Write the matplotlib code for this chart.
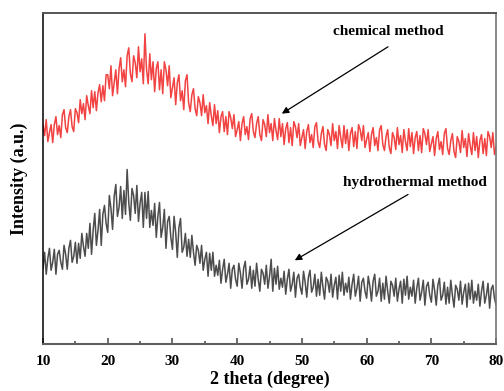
import matplotlib
matplotlib.use("Agg")
import matplotlib.pyplot as plt
import numpy as np
from matplotlib.ticker import MultipleLocator

plt.rcParams['font.family'] = ['Liberation Serif', 'DejaVu Serif']
plt.rcParams['font.weight'] = 'bold'

# intensity, 2theta = 10..80 in 0.25 degree steps
chemical = [220, 209, 225, 203, 212, 220, 202, 220, 228, 210, 219, 207,
            230, 235, 217, 212, 228, 235, 218, 213, 236, 232, 222, 245,
            231, 241, 225, 249, 239, 231, 254, 237, 253, 234, 252, 260,
            243, 259, 244, 270, 270, 256, 279, 249, 262, 275, 251, 276,
            287, 263, 275, 258, 289, 297, 271, 263, 289, 282, 267, 298,
            273, 286, 261, 311, 275, 261, 291, 265, 283, 253, 276, 283,
            255, 275, 251, 283, 275, 259, 279, 247, 257, 267, 240, 262,
            270, 244, 254, 235, 264, 270, 242, 233, 250, 256, 236, 229,
            248, 242, 229, 250, 232, 239, 221, 242, 229, 219, 240, 221,
            234, 212, 228, 233, 213, 228, 210, 233, 227, 216, 230, 208,
            215, 223, 204, 221, 228, 210, 218, 205, 226, 231, 213, 207,
            221, 228, 210, 204, 225, 220, 208, 230, 212, 221, 204, 226,
            214, 205, 226, 208, 221, 200, 216, 222, 202, 217, 199, 223,
            218, 207, 221, 199, 207, 215, 196, 213, 220, 202, 210, 197,
            218, 222, 203, 197, 211, 218, 200, 194, 215, 210, 199, 221,
            204, 213, 196, 219, 207, 197, 219, 201, 215, 194, 211, 217,
            198, 213, 196, 220, 215, 204, 219, 197, 205, 212, 193, 210,
            217, 199, 207, 194, 215, 219, 200, 194, 208, 215, 197, 191,
            212, 207, 195, 217, 200, 209, 192, 215, 203, 194, 216, 198,
            212, 191, 207, 213, 194, 209, 192, 216, 211, 200, 215, 193,
            201, 208, 189, 206, 213, 195, 203, 190, 211, 216, 196, 190,
            204, 211, 193, 187, 208, 203, 192, 214, 197, 206, 188, 211,
            199, 190, 212, 194, 208, 187, 204, 210, 191, 206, 189, 213,
            208, 197, 212, 190, 198]

hydrothermal = [76, 92, 70, 86, 96, 74, 82, 95, 70, 90, 94, 82,
                75, 99, 90, 75, 96, 104, 82, 88, 102, 81, 101, 86,
                111, 98, 88, 111, 96, 121, 90, 114, 131, 99, 114, 135,
                99, 130, 139, 121, 112, 149, 136, 115, 148, 160, 128, 137,
                158, 126, 154, 130, 175, 142, 124, 156, 149, 131, 159, 123,
                141, 152, 117, 152, 126, 153, 117, 134, 119, 141, 107, 128,
                142, 107, 117, 135, 96, 123, 128, 107, 95, 128, 112, 87,
                117, 126, 92, 97, 111, 88, 105, 87, 109, 92, 79, 99,
                94, 81, 99, 74, 85, 92, 68, 91, 74, 92, 68, 79,
                69, 84, 61, 75, 85, 62, 70, 81, 56, 75, 79, 65,
                58, 81, 71, 56, 76, 83, 60, 65, 78, 56, 74, 58,
                81, 65, 53, 75, 71, 60, 79, 56, 68, 85, 53, 76,
                60, 78, 55, 66, 57, 73, 50, 65, 75, 53, 60, 72,
                47, 66, 70, 57, 50, 73, 62, 47, 67, 74, 52, 57,
                70, 48, 65, 49, 72, 57, 45, 67, 63, 52, 70, 47,
                59, 67, 45, 69, 53, 72, 49, 61, 52, 67, 45, 60,
                70, 48, 56, 68, 43, 62, 66, 53, 46, 68, 58, 43,
                63, 70, 48, 53, 66, 43, 61, 45, 68, 53, 41, 63,
                59, 48, 66, 43, 55, 63, 41, 65, 49, 68, 45, 57,
                48, 64, 41, 56, 66, 44, 52, 64, 39, 58, 62, 49,
                42, 65, 54, 39, 59, 66, 44, 49, 62, 40, 57, 41,
                64, 49, 37, 59, 55, 44, 63, 40, 52, 60, 37, 61,
                45, 64, 41, 53, 44, 60, 38, 53, 63, 41, 49, 61,
                36, 55, 59, 46, 39]

theta_red = np.linspace(10, 80, len(chemical))
theta_gray = np.linspace(10, 80, len(hydrothermal))

fig = plt.figure(figsize=(5.04, 3.91), dpi=100)
ax = fig.add_axes([0.0853, 0.120, 0.899, 0.847])

ax.plot(theta_red, chemical, color='#F24343', lw=1.1)
ax.plot(theta_gray, hydrothermal, color='#4D4D4D', lw=1.1)

ax.set_xlim(10, 80)
ax.set_ylim(0, 332)
ax.set_yticks([])
ax.xaxis.set_major_locator(MultipleLocator(10))
ax.xaxis.set_minor_locator(MultipleLocator(5))
ax.tick_params(axis='x', which='major', direction='in', length=4, width=1.2,
               color='#555555', labelsize=11, pad=8)
ax.tick_params(axis='x', which='minor', direction='in', length=2.5,
               width=1.2, color='#555555')
for lab in ax.get_xticklabels():
    lab.set_fontweight('bold')

ax.spines['left'].set_color('black')
ax.spines['left'].set_linewidth(1.1)
ax.spines['bottom'].set_color('#5f5f5f')
ax.spines['bottom'].set_linewidth(1.5)
ax.spines['top'].set_color('#555555')
ax.spines['top'].set_linewidth(1.4)
ax.spines['right'].set_color('#777777')
ax.spines['right'].set_linewidth(1.2)

ax.set_xlabel('2 theta (degree)', fontsize=13, fontweight='bold', labelpad=2)
ax.set_ylabel('Intensity (a.u.)', fontsize=13, fontweight='bold', labelpad=11)

ax.text(63.3, 313, 'chemical method', ha='center', va='center',
        fontsize=11, fontweight='bold')
ax.annotate('', xy=(46.9, 231), xytext=(63.3, 298),
            arrowprops=dict(arrowstyle='-|>', color='black', lw=0.9,
                            mutation_scale=10, shrinkA=0, shrinkB=0))
ax.text(67.5, 162, 'hydrothermal method', ha='center', va='center',
        fontsize=11, fontweight='bold')
ax.annotate('', xy=(48.9, 84), xytext=(66.4, 150),
            arrowprops=dict(arrowstyle='-|>', color='black', lw=0.9,
                            mutation_scale=10, shrinkA=0, shrinkB=0))

fig.savefig('out.png', dpi=100)
